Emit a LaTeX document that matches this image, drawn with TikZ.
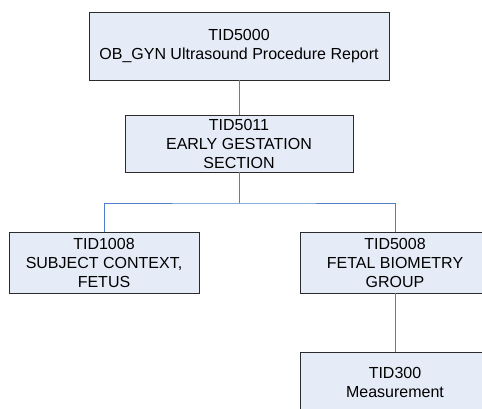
\documentclass[tikz,border=0pt]{standalone}
\usepackage{fontspec}
\setmainfont{Liberation Sans}
\definecolor{boxfill}{HTML}{E6ECF7}
\definecolor{boxline}{HTML}{2B2B2B}
\definecolor{linkblue}{HTML}{4F7FC8}
\begin{document}
\begin{tikzpicture}[x=1pt,y=-1pt,
    every text node part/.style={align=center},
    tid/.style={draw=boxline,line width=0.9pt,fill=boxfill,inner sep=0pt,
      font=\fontsize{16}{19}\selectfont},
    link/.style={draw=linkblue,line width=0.9pt}]

    \useasboundingbox (0,0) rectangle (482,408);

    % --------------------------------------------------------- %
    % ------------- root template
    % --------------------------------------------------------- %
    \node[tid,minimum width=300pt,minimum height=68pt] (report) at (239,46) {TID5000\\OB\_GYN Ultrasound Procedure Report};

    % --------------------------------------------------------- %
    % ------------- section
    % --------------------------------------------------------- %
    \node[tid,minimum width=228pt,minimum height=57pt] (section) at (239,143.5) {TID5011\\EARLY GESTATION\\SECTION};
    \draw [link] (report) -- (section);

    % --------------------------------------------------------- %
    % ------------- children of the section
    % --------------------------------------------------------- %
    \node[tid,minimum width=190pt,minimum height=61pt] (subject) at (104,262.5) {TID1008\\SUBJECT CONTEXT,\\FETUS};
    \node[tid,minimum width=190pt,minimum height=61pt] (biometry) at (395,262.5) {TID5008\\FETAL BIOMETRY\\GROUP};
    \coordinate (split) at (239,203);
    \draw [link] (section) -- (split);
    \draw [link] (subject.north) |- (split) -| (biometry.north);

    % --------------------------------------------------------- %
    % ------------- measurement
    % --------------------------------------------------------- %
    \node[tid,minimum width=190pt,minimum height=61pt] (measure) at (395,382.5) {TID300\\Measurement};
    \draw [link] (biometry) -- (measure);

  \end{tikzpicture}
\end{document}
